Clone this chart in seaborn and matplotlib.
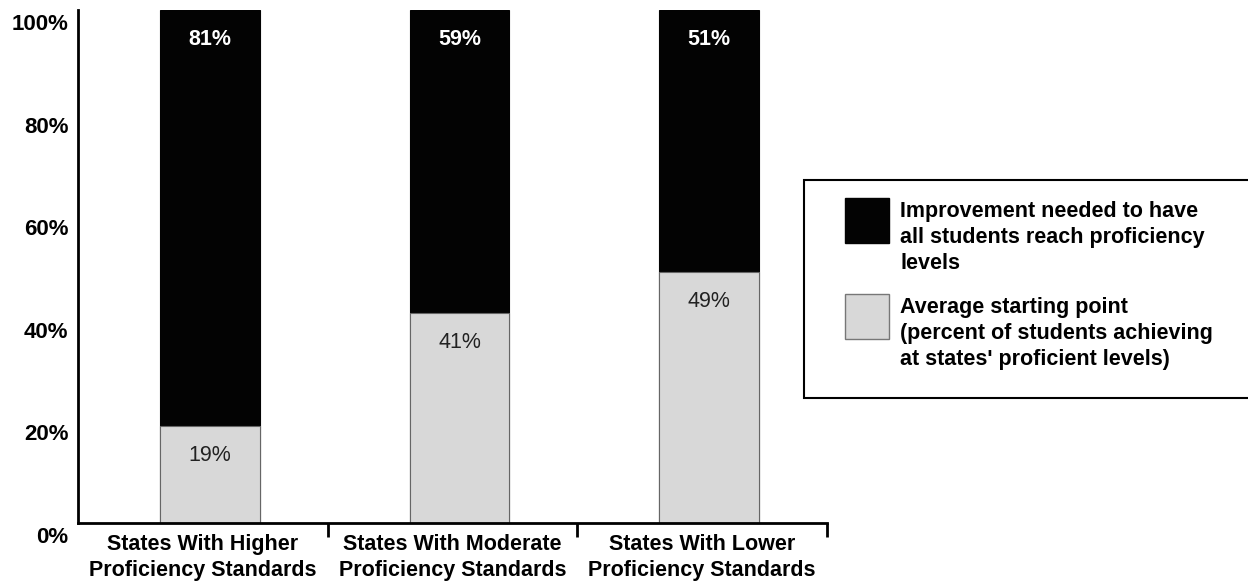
import matplotlib
matplotlib.use("Agg")
import matplotlib.pyplot as plt
import matplotlib.transforms as mtransforms
from matplotlib.patches import Rectangle
import seaborn as sns
import pandas as pd

# -----------------------------------
# Data
# -----------------------------------
categories = [
    "States With Higher\nProficiency Standards",
    "States With Moderate\nProficiency Standards",
    "States With Lower\nProficiency Standards",
]
starting_point = [19, 41, 49]
improvement_needed = [81, 59, 51]
y_ticks = [0, 20, 40, 60, 80, 100]
y_tick_labels = ["0%", "20%", "40%", "60%", "80%", "100%"]
legend_labels = [
    "Improvement needed to have\nall students reach proficiency\nlevels",
    "Average starting point\n(percent of students achieving\nat states' proficient levels)",
]

BLACK = "#030303"
GRAY = "#d8d8d8"
FONT = ["Liberation Sans", "DejaVu Sans"]

sns.set_style("white")
plt.rcParams["font.family"] = FONT

df = pd.DataFrame({
    "category": categories,
    "start": starting_point,
    "improve": improvement_needed,
})
df["total"] = df["start"] + df["improve"]

W, H = 1248, 586
fig = plt.figure(figsize=(W / 100, H / 100), dpi=100)
ax = fig.add_axes([78 / W, 1 - 523 / H, 749 / W, 513 / H])

# -----------------------------------
# Stacked bars: full bar in black, starting point in gray over it
# -----------------------------------
sns.barplot(data=df, x="category", y="total", color=BLACK, width=0.4,
            saturation=1, ax=ax, edgecolor=BLACK, linewidth=0.8)
sns.barplot(data=df, x="category", y="start", color=GRAY, width=0.4,
            saturation=1, ax=ax, edgecolor="#666666", linewidth=0.8)

# value labels, ~30px below each segment top
for i, row in df.iterrows():
    ax.annotate(f"{row['improve']}%", (i, row["total"]), xytext=(0, -21.5),
                textcoords="offset points", ha="center", va="center",
                color="white", fontsize=15.5, fontweight="bold")
    ax.annotate(f"{row['start']}%", (i, row["start"]), xytext=(0, -21.5),
                textcoords="offset points", ha="center", va="center",
                color="#222222", fontsize=15.5)

shift = 7 / 250  # category separators sit slightly left of bar centres
ax.set_ylim(0, 100)
ax.set_xlim(-0.5 - shift, 2.5 - shift)
ax.set_xlabel("")
ax.set_ylabel("")

ax.set_yticks(y_ticks)
ax.set_yticklabels(y_tick_labels, fontsize=16, fontweight="bold", color="black")
ax.tick_params(axis="y", length=0, pad=7)
offset = mtransforms.ScaledTranslation(0, -0.12, fig.dpi_scale_trans)
for lbl in ax.get_yticklabels():
    lbl.set_transform(lbl.get_transform() + offset)

ax.set_xticks([i - shift for i in range(len(categories))])
ax.set_xticklabels(categories, fontsize=15.5, fontweight="bold", color="black",
                   linespacing=1.3)
ax.tick_params(axis="x", which="major", length=0, pad=8)
ax.set_xticks([0.5 - shift, 1.5 - shift, 2.5 - shift], minor=True)
ax.tick_params(axis="x", which="minor", bottom=True, length=10, width=2,
               direction="out", color="black")

for side in ["top", "right"]:
    ax.spines[side].set_visible(False)
for side in ["left", "bottom"]:
    ax.spines[side].set_color("black")
    ax.spines[side].set_linewidth(2)

# -----------------------------------
# Legend box (runs off the right edge like the original)
# -----------------------------------
fig.add_artist(Rectangle((804 / W, 1 - 398 / H), 460 / W, 218 / H,
                         transform=fig.transFigure, facecolor="white",
                         edgecolor="black", linewidth=1.5, clip_on=False))

swatches = [(BLACK, BLACK, 198), (GRAY, "#777777", 294)]
for (face, edge, top), label in zip(swatches, legend_labels):
    fig.add_artist(Rectangle((845 / W, 1 - (top + 45) / H), 44 / W, 45 / H,
                             transform=fig.transFigure, facecolor=face,
                             edgecolor=edge, linewidth=1))
    fig.text(900 / W, 1 - (top + 3) / H, label, ha="left", va="top",
             fontsize=15.5, fontweight="bold", color="black",
             linespacing=1.32)

fig.savefig("out.png", dpi=100)
